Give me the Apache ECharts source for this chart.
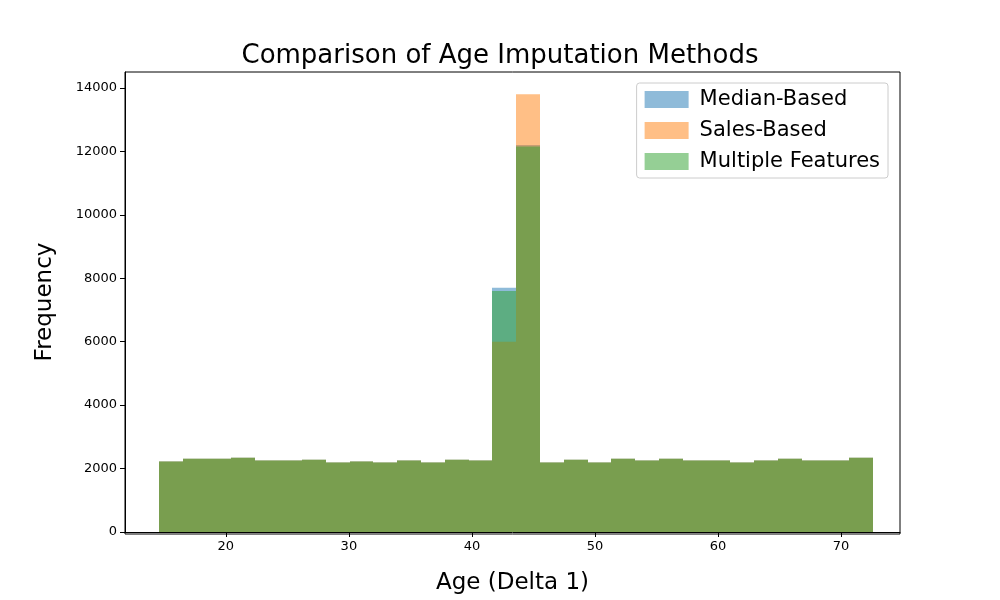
<!DOCTYPE html>
<html>
<head>
<meta charset="utf-8">
<script src="https://cdn.jsdelivr.net/npm/echarts@6/dist/echarts.min.js"></script>
<style>html,body{margin:0;padding:0;background:#fff}#chart{width:1000px;height:600px}</style>
</head>
<body>
<div id="chart"></div>
<script>
// 30 bins of equal width between 14.6 and 72.6
const binStart = 14.6;
const binWidth = 58 / 30;
const base = [2219, 2312, 2312, 2344, 2250, 2250, 2281, 2187, 2219, 2187, 2250, 2187, 2281, 2250, 0, 0,
  2187, 2281, 2187, 2312, 2250, 2312, 2250, 2250, 2187, 2250, 2312, 2250, 2250, 2344];
const medianBased = base.slice(); medianBased[14] = 7700; medianBased[15] = 12200;
const salesBased = base.slice(); salesBased[14] = 6000; salesBased[15] = 13800;
const multipleFeatures = base.slice(); multipleFeatures[14] = 7600; multipleFeatures[15] = 12150;

const xTicks = [20, 30, 40, 50, 60, 70];
const yTicks = [0, 2000, 4000, 6000, 8000, 10000, 12000, 14000];

const names = ["Median-Based", "Sales-Based", "Multiple Features"];
const colors = ["#1f77b4", "#ff7f0e", "#2ca02c"];
const allValues = [medianBased, salesBased, multipleFeatures];

function toData(vals) {
  return vals.map((v, i) => [binStart + i * binWidth, binStart + (i + 1) * binWidth, v]);
}

function renderItem(params, api) {
  const p0 = api.coord([api.value(0), api.value(2)]);
  const p1 = api.coord([api.value(1), 0]);
  return {
    type: "rect",
    shape: { x: Math.round(p0[0]), y: p0[1], width: Math.round(p1[0]) - Math.round(p0[0]), height: p1[1] - p0[1] },
    style: { fill: api.visual("color"), opacity: 0.5 }
  };
}

const font = "DejaVu Sans";
const chart = echarts.init(document.getElementById("chart"));
chart.setOption({
  animation: false,
  title: { text: "Comparison of Age Imputation Methods", left: "center", top: 38,
    textStyle: { fontFamily: font, fontSize: 26, fontWeight: "normal", color: "#000" } },
  legend: {
    right: 112, top: 83, orient: "vertical", itemWidth: 44, itemHeight: 17, itemGap: 10,
    padding: [6, 8, 6, 8], borderColor: "#ccc", borderWidth: 1, borderRadius: 3,
    textStyle: { fontFamily: font, fontSize: 21, color: "#000", padding: [0, 0, 0, 6] },
    data: names.map((n, i) => ({ name: n, icon: "rect", itemStyle: { color: colors[i], opacity: 0.5 } }))
  },
  grid: { left: 125, right: 100, top: 72, bottom: 66 },
  xAxis: {
    type: "value", min: 11.8, max: 74.8,
    name: "Age (Delta 1)", nameLocation: "middle", nameGap: 40,
    nameTextStyle: { fontFamily: font, fontSize: 23, color: "#000" },
    axisLine: { show: true, lineStyle: { color: "#000" } },
    axisTick: { show: true, length: 5, customValues: xTicks, lineStyle: { color: "#000" } },
    axisLabel: { color: "#000", fontSize: 13, fontFamily: font, customValues: xTicks },
    splitLine: { show: false }
  },
  yAxis: {
    type: "value", min: 0, max: 14500,
    name: "Frequency", nameLocation: "middle", nameGap: 68,
    nameTextStyle: { fontFamily: font, fontSize: 23, color: "#000" },
    axisLine: { show: true, lineStyle: { color: "#000" } },
    axisTick: { show: true, length: 5, customValues: yTicks, lineStyle: { color: "#000" } },
    axisLabel: { color: "#000", fontSize: 13, fontFamily: font, customValues: yTicks, formatter: v => String(v) },
    splitLine: { show: false }
  },
  graphic: [{ type: "rect", shape: { x: 125, y: 72, width: 775, height: 462 },
    style: { fill: "none", stroke: "#000", lineWidth: 1 }, silent: true, z: 100 }],
  series: allValues.map((vals, i) => ({
    name: names[i], type: "custom", renderItem, color: colors[i],
    encode: { x: [0, 1], y: 2 }, data: toData(vals)
  }))
});
</script>
</body>
</html>
